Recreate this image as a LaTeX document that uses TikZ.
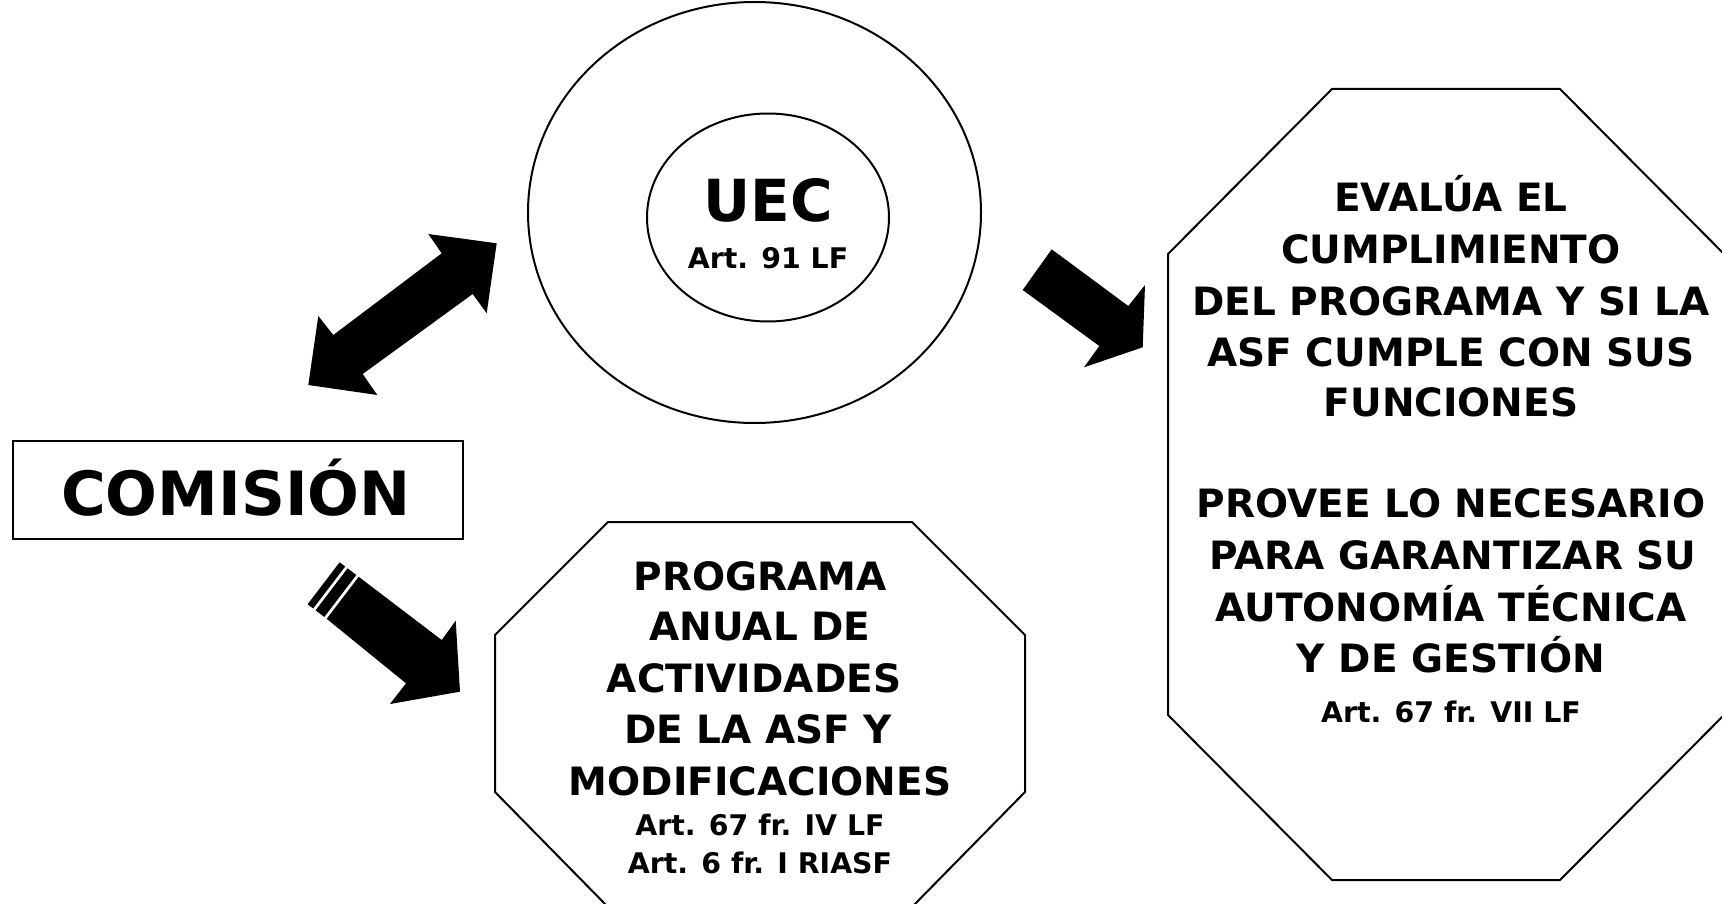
\documentclass[tikz,border=0pt]{standalone}
\usepackage{fontspec}
\setmainfont{DejaVu Sans}
\usetikzlibrary{shapes.geometric}
\begin{document}
\begin{tikzpicture}[x=1pt,y=-1pt,line join=miter]
\tikzset{
  outline/.style={draw=black,line width=2pt},
  big/.style={font=\bfseries\fontsize{39}{47}\selectfont,anchor=base,inner sep=0pt},
  small/.style={font=\bfseries\fontsize{28.4}{34}\selectfont,anchor=base,inner sep=0pt},
  blockarrow/.style={fill=black},
}
\useasboundingbox (0,0) rectangle (1722,904);
\clip (0,0) rectangle (1722,904);
\fill[white] (0,0) rectangle (1722,904);

% UEC ellipses
\node[ellipse,outline,minimum width=453pt,minimum height=421pt,inner sep=0pt] (outer) at (754.5,212.5) {};
\node[ellipse,outline,minimum width=242pt,minimum height=208pt,inner sep=0pt] (inner) at (768,217.5) {};
\node[font=\bfseries\fontsize{58}{60}\selectfont,anchor=base,inner sep=0pt] (uec) at (768,221.7) {UEC};
\node[small] (uecart) at (768,268.3) {Art. 91 LF};

% Comision box
\node[draw=black,line width=2.5pt,minimum width=450pt,minimum height=98pt,inner sep=0pt] (com) at (238,490) {};
\node[font=\bfseries\fontsize{61}{64}\selectfont,anchor=base,inner sep=0pt] (comt) at (236,515) {COMISIÓN};

% bottom octagon
\draw[outline] (608,522) -- (912,522) -- (1025,635) -- (1025,792) -- (912,907) -- (608,907) -- (495,792) -- (495,635) -- cycle;
\node[big] (p1) at (760,590) {PROGRAMA};
\node[big] (p2) at (760,640) {ANUAL DE};
\node[big] (p3) at (754,692) {ACTIVIDADES};
\node[big] (p4) at (758,743) {DE LA ASF Y};
\node[big] (p5) at (760,795) {MODIFICACIONES};
\node[small] (p6) at (760,835) {Art. 67 fr. IV LF};
\node[small] (p7) at (760,873) {Art. 6 fr. I RIASF};

% right octagon
\draw[outline] (1332,89) -- (1560,89) -- (1724,254) -- (1724,715) -- (1560,880) -- (1332,880) -- (1168,715) -- (1168,254) -- cycle;
\node[big] (r1) at (1451,212) {EVALÚA EL};
\node[big] (r2) at (1451,264) {CUMPLIMIENTO};
\node[big] (r3) at (1451,315) {DEL PROGRAMA Y SI LA};
\node[big] (r4) at (1451,366) {ASF CUMPLE CON SUS};
\node[big] (r5) at (1451,416) {FUNCIONES};
\node[big] (r6) at (1451,517) {PROVEE LO NECESARIO};
\node[big] (r7) at (1453,569) {PARA GARANTIZAR SU};
\node[big] (r8) at (1451,621) {AUTONOMÍA TÉCNICA};
\node[big] (r9) at (1451,672) {Y DE GESTIÓN};
\node[small] (r10) at (1451,722) {Art. 67 fr. VII LF};

% double arrow between COMISION and UEC
\fill[blockarrow] (496.7,243.3) -- (486.7,313.3) -- (472.7,294) -- (362.7,374) -- (377.3,395) -- (308.3,385) -- (318.3,316) -- (333.3,335) -- (441.7,253.3) -- (428.3,234) -- cycle;

% striped arrow COMISION -> PROGRAMA
\fill[blockarrow] (358.7,576.8) -- (441.7,640) -- (455.7,620.7) -- (460,691.7) -- (390,704) -- (406,683.3) -- (326.7,618.8) -- cycle;
\fill[blockarrow] (356.3,575.0) -- (347.6,568.3) -- (315.6,610.3) -- (324.3,617.0) -- cycle;
\fill[blockarrow] (345.2,566.5) -- (339.6,562.3) -- (307.6,604.3) -- (313.2,608.5) -- cycle;

% arrow UEC -> right octagon
\fill[blockarrow] (1051.7,249.3) -- (1128.3,306) -- (1145,285) -- (1142.7,347.3) -- (1084,367.3) -- (1099.3,346) -- (1022.7,290) -- cycle;
\end{tikzpicture}
\end{document}
